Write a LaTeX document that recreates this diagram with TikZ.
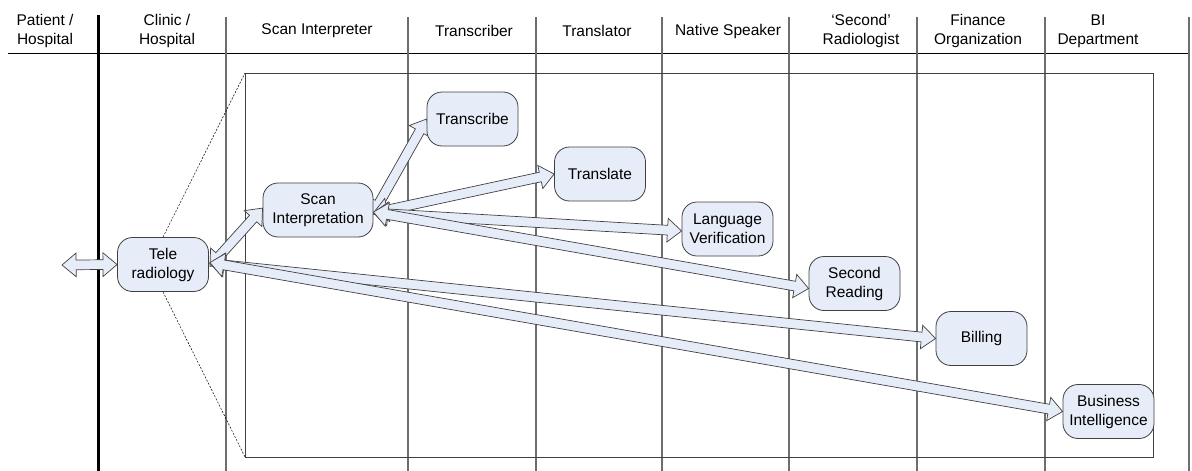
\documentclass[tikz,border=0pt]{standalone}
\usepackage{fontspec}
\setmainfont{Liberation Sans}
\usetikzlibrary{calc,shapes.arrows}
\definecolor{nodefill}{RGB}{230,236,248}
\definecolor{edge}{RGB}{64,64,64}
\definecolor{lane}{RGB}{110,110,110}
\pgfdeclarelayer{bg}
\pgfsetlayers{bg,main}
\tikzset{
  lbl/.style={font=\fontsize{15.5}{19}\selectfont, align=center, inner sep=0pt},
  task/.style={draw=edge, line width=0.8pt, fill=nodefill, rounded corners=15pt,
    minimum width=91pt, minimum height=54pt, align=center, inner sep=2pt,
    font=\fontsize{15.5}{19}\selectfont},
  blockarrow/.style={double arrow, draw=edge, line width=0.7pt, fill=nodefill,
    inner sep=0pt, inner ysep=4.5pt, minimum width=23pt,
    double arrow head extend=7pt, double arrow tip angle=80},
  lanesep/.style={draw=lane, line width=1.1pt},
  zoomline/.style={draw=black, line width=0.5pt, dash pattern=on 2pt off 1.5pt}
}
\newcommand\barrow[2]{%
  \path let \p1=(#1), \p2=(#2),
    \n1={atan2(\y2-\y1,\x2-\x1)}, \n2={veclen(\x2-\x1,\y2-\y1)} in
    node[blockarrow, rotate=\n1, minimum height=\n2] at ($(\p1)!0.5!(\p2)$) {};}
\begin{document}
\begin{tikzpicture}[x=1pt,y=-1pt]
\useasboundingbox (0,0) rectangle (1192,471);
% headers
\node[lbl] (h1) at (45,31) {Patient /\\Hospital};
\node[lbl] (h2) at (167,31) {Clinic /\\Hospital};
\node[lbl] (h3) at (317,31) {Scan Interpreter};
\node[lbl] (h4) at (474,31) {Transcriber};
\node[lbl] (h5) at (597,31) {Translator};
\node[lbl] (h6) at (728,31) {Native Speaker};
\node[lbl] (h7) at (861,31) {`Second'\\Radiologist};
\node[lbl] (h8) at (978,31) {Finance\\Organization};
\node[lbl] (h9) at (1098,31) {BI\\Department};
% tasks
\node[task] (tele) at (163,264.5) {Tele\\radiology};
\node[task, minimum width=110pt] (scan) at (318,210) {Scan\\Interpretation};
\node[task] (transcribe) at (472.5,119) {Transcribe};
\node[task] (translate) at (600,174) {Translate};
\node[task] (verify) at (727.5,229) {Language\\Verification};
\node[task] (second) at (854.5,283.5) {Second\\Reading};
\node[task] (billing) at (981.5,338.5) {Billing};
\node[task] (bi) at (1108.5,411.5) {Business\\Intelligence};
\coordinate (patient) at (62,265);
\coordinate (boxtl) at (245,73);
\coordinate (boxbr) at (1153,457);
\coordinate (boxbl) at (245,457);
\begin{pgfonlayer}{bg}
  % swimlanes
  \draw[black, line width=1pt] (8,53) -- (1190,53);
  \foreach \x in {226,408,536,662,789,917,1045,1189}
    \draw[lanesep] (\x,17) -- (\x,471);
  \draw[edge, line width=1pt] (boxtl) rectangle (boxbr);
  \draw[black, line width=3pt] (98,15) -- (98,471);
  % zoom lines
  \draw[zoomline] (tele.north) -- (boxtl);
  \draw[zoomline] (tele.south) -- (boxbl);
  % arrows
  \barrow{patient}{tele.west}
  \barrow{$(tele.east)+(1,2)$}{$(scan.west)+(0,-2)$}
  \barrow{$(tele.east)+(1,-1)$}{billing.west}
  \barrow{$(tele.east)+(1,-2)$}{bi.west}
  \barrow{$(scan.east)+(-1,5)$}{transcribe.west}
  \barrow{$(scan.east)+(0,3)$}{translate.west}
  \barrow{$(scan.east)+(0,3)$}{$(verify.west)+(0,2)$}
  \barrow{$(scan.east)+(0,2)$}{$(second.west)+(0,5)$}
\end{pgfonlayer}
\end{tikzpicture}
\end{document}
